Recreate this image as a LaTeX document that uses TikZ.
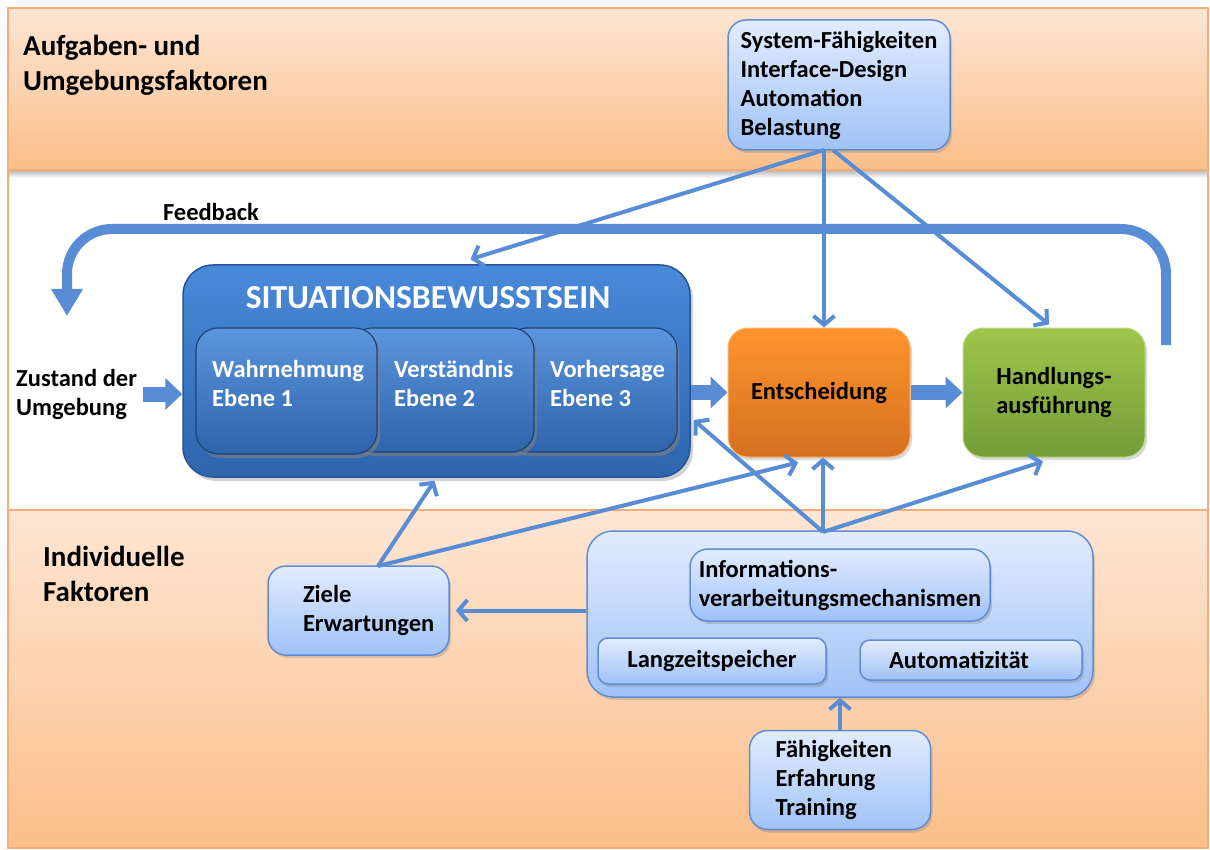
\documentclass[tikz,border=0pt]{standalone}
\usepackage{fontspec}
\setmainfont{Carlito}
\usepackage{xcolor}
\usepackage{tikz}
\usetikzlibrary{arrows.meta,positioning,calc}
\usetikzlibrary{shadows}

\definecolor{bandtop}{RGB}{253,230,212}
\definecolor{bandbot}{RGB}{251,190,138}
\definecolor{bandline}{RGB}{247,172,118}
\definecolor{boxtop}{RGB}{226,236,254}
\definecolor{boxbot}{RGB}{160,194,246}
\definecolor{boxline}{RGB}{98,140,210}
\definecolor{arrowblue}{RGB}{88,141,213}
\definecolor{satop}{RGB}{74,138,218}
\definecolor{sabot}{RGB}{45,100,172}
\definecolor{saline}{RGB}{38,84,150}
\definecolor{enttop}{RGB}{255,148,46}
\definecolor{entbot}{RGB}{212,112,32}
\definecolor{handtop}{RGB}{158,198,76}
\definecolor{handbot}{RGB}{116,156,56}

\newcommand{\lblfont}{\fontsize{24.5}{29}\selectfont\bfseries}
\newcommand{\headfont}{\fontsize{29}{35}\selectfont\bfseries}
\newcommand{\titlefont}{\fontsize{33.5}{38}\selectfont\bfseries}

\tikzset{
 infobox/.style = {rounded corners = 18pt, draw = boxline, line width = 1.5pt,
   top color = boxtop, bottom color = boxbot,
   drop shadow = {opacity = 0.3, shadow xshift = 2pt, shadow yshift = -3pt},
   font = \lblfont, align = left},
 sabox/.style = {rounded corners = 30pt, draw = saline, line width = 1.5pt,
   top color = satop, bottom color = sabot,
   drop shadow = {opacity = 0.35, shadow xshift = 3pt, shadow yshift = -4pt}},
 lvlbox/.style = {rounded corners = 22pt, draw = saline!80!black, line width = 1.2pt,
   top color = satop!90!white, bottom color = sabot,
   drop shadow = {opacity = 0.6, shadow xshift = 3pt, shadow yshift = -4pt}},
 entbox/.style = {rounded corners = 20pt, draw = enttop!70!white, line width = 1pt,
   top color = enttop, bottom color = entbot,
   drop shadow = {opacity = 0.3, shadow xshift = 2pt, shadow yshift = -3pt},
   font = \lblfont, align = center},
 handbox/.style = {rounded corners = 20pt, draw = handtop!70!white, line width = 1pt,
   top color = handtop, bottom color = handbot,
   drop shadow = {opacity = 0.3, shadow xshift = 2pt, shadow yshift = -3pt},
   font = \lblfont, align = center},
 headtext/.style = {font = \headfont, align = left, inner sep = 2pt},
 plaintext/.style = {font = \lblfont, align = left, inner sep = 2pt},
 lvltext/.style = {font = \lblfont, text = white, align = left, inner sep = 2pt},
 thinarrow/.style = {draw = arrowblue, line width = 4pt,
   -{Straight Barb[length = 9pt, width = 21pt]}},
 blockarrow/.style = {draw = arrowblue, line width = 15pt,
   -{Triangle[length = 17pt, width = 31pt]}},
 fbarrow/.style = {draw = arrowblue, line width = 10pt, rounded corners = 45pt,
   -{Triangle[length = 27pt, width = 30pt]}}
}

\begin{document}
\begin{tikzpicture}[x = 1pt, y = -1pt]

\useasboundingbox (0,0) rectangle (1210,850);
\fill[white] (0,0) rectangle (1210,850);

\shade[top color = bandtop, bottom color = bandbot] (8,8) rectangle (1208,170);
\shade[top color = black!25, bottom color = white] (9,171) rectangle (1207,178);
\shade[top color = bandtop, bottom color = bandbot] (8,510) rectangle (1208,848);
\draw[bandline, line width = 1.5pt] (8,170) -- (1208,170) (8,510) -- (1208,510);
\draw[bandline, line width = 1.5pt] (8,8) rectangle (1208,848);

\node[headtext, anchor = west] (aufg) at (21,65) {Aufgaben- und\\Umgebungsfaktoren};
\node[headtext, anchor = west] (indiv) at (41,574) {Individuelle\\Faktoren};

\node[infobox, minimum width = 222pt, minimum height = 130pt] (sys) at (839,85)
 {System-Fähigkeiten\\Interface-Design\\Automation\\Belastung};

\node[plaintext] (fb) at (211,212) {Feedback};
\node[plaintext, anchor = west] (zust) at (14,394) {Zustand der\\Umgebung};

\node[sabox, minimum width = 507pt, minimum height = 212pt] (sa) at (436.5,371) {};
\node[font = \titlefont, text = white] (satitle) at (428,298) {SITUATIONSBEWUSSTSEIN};

\node[lvlbox, minimum width = 172pt, minimum height = 124pt] (lvl3) at (591,390) {};
\node[lvlbox, minimum width = 184pt, minimum height = 124pt] (lvl2) at (442,390) {};
\node[lvlbox, minimum width = 181pt, minimum height = 126pt] (lvl1) at (286.5,391) {};
\node[lvltext, anchor = west] (lvl1txt) at (210,383) {Wahrnehmung\\Ebene 1};
\node[lvltext, anchor = west] (lvl2txt) at (392,383) {Verständnis\\Ebene 2};
\node[lvltext, anchor = west] (lvl3txt) at (548,383) {Vorhersage\\Ebene 3};

\node[entbox, minimum width = 182pt, minimum height = 129pt] (ent) at (819,392.5) {Entscheidung};
\node[handbox, minimum width = 182pt, minimum height = 129pt,
 right = 52pt of ent] (hand) {Handlungs-\\ausführung};

\node[infobox, text width = 111pt, inner xsep = 35pt, minimum height = 89pt] (ziele)
 at (358.5,610.5) {Ziele\\Erwartungen};
\node[infobox, minimum width = 506pt, minimum height = 166pt, rounded corners = 26pt] (info)
 at (840,614) {};
\node[infobox, minimum width = 300pt, minimum height = 72pt] (mech) at (840,585)
 {Informations-\\verarbeitungsmechanismen};
\node[infobox, minimum width = 228pt, minimum height = 46pt, rounded corners = 10pt] (langz)
 at (712,661) {Langzeitspeicher};
\node[infobox, text width = 164pt, inner xsep = 29pt, minimum height = 40pt,
 rounded corners = 10pt] (auto) at (971,660) {Automatizität};
\node[infobox, text width = 129pt, inner xsep = 26pt, minimum height = 99pt,
 below = 32pt of info] (fae) {Fähigkeiten\\Erfahrung\\Training};

\coordinate (sysfoot) at (824,150);
\coordinate (infotop) at (823,532);
\coordinate (zieletop) at (378,566);
\coordinate (fbstart) at (1166,345);
\coordinate (fbcorner) at (67,229);
\coordinate (fbend) at (67,316);

\draw[fbarrow] (fbstart) |- (fbcorner) -- (fbend);

\draw[blockarrow] ([xshift = 4pt]zust.east) -- (sa.west |- zust.east);
\draw[blockarrow] (sa.east |- ent.west) -- (ent.west);
\draw[blockarrow] (ent.east) -- (hand.west);

\draw[thinarrow] (sysfoot) -- ([xshift = 34pt, yshift = 5pt]sa.north);
\draw[thinarrow] (sysfoot) -- (sysfoot |- ent.north);
\draw[thinarrow] ([xshift = 9pt]sysfoot) -- ([xshift = -5pt, yshift = 3pt]hand.north);

\draw[thinarrow] (infotop) -- ([xshift = 3pt, yshift = -49pt]sa.east);
\draw[thinarrow] (infotop) -- (infotop |- ent.south);
\draw[thinarrow] (infotop) -- ([xshift = -11pt, yshift = -4pt]hand.south);
\draw[thinarrow] (zieletop) -- ([xshift = -2pt, yshift = -3pt]sa.south);
\draw[thinarrow] (zieletop) -- ([xshift = -21pt, yshift = -5pt]ent.south);
\draw[thinarrow] (info.west |- ziele.east) -- ([xshift = 6pt]ziele.east);
\draw[thinarrow] (fae.north) -- (fae.north |- info.south);

\end{tikzpicture}
\end{document}
